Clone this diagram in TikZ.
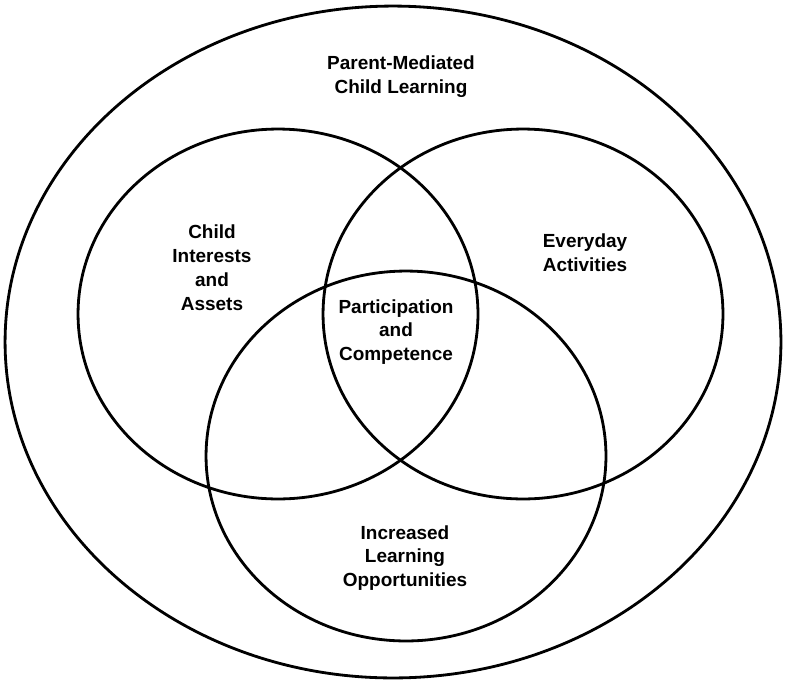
\documentclass[tikz,border=0pt]{standalone}
\usepackage{fontspec}
\setmainfont{Liberation Sans}
\usetikzlibrary{shapes.geometric}

\begin{document}
\begin{tikzpicture}[
    x=0.02cm, y=-0.02cm,
    outerset/.style={ellipse, draw, line width=1.6pt, inner sep=0pt, minimum width=15.52cm, minimum height=13.44cm},
    set/.style={ellipse, draw, line width=1.6pt, inner sep=0pt, minimum width=8cm, minimum height=7.4cm},
    settext/.style={align=center, font=\fontsize{10.8}{13.6}\selectfont\bfseries}
]
\useasboundingbox (0,0) rectangle (786,683);

% Outer set
\node[outerset] (parent) at (393,342) {};

% Three overlapping sets
\node[set] (interests) at (278,314) {};
\node[set] (activities) at (523,314) {};
\node[set] (opportunities) at (406,456) {};

% Labels
\node[settext] (parent_txt) at (401,77) {Parent-Mediated\\Child Learning};
\node[settext] (interests_txt) at (212,268) {Child\\Interests\\and\\Assets};
\node[settext] (activities_txt) at (585,253) {Everyday\\Activities};
\node[settext] (center_txt) at (396,332) {Participation\\and\\Competence};
\node[settext] (opportunities_txt) at (405,558) {Increased\\Learning\\Opportunities};

\end{tikzpicture}
\end{document}
